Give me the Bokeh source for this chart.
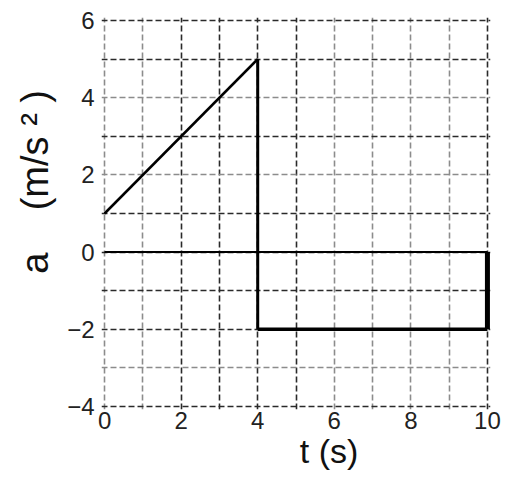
from bokeh.plotting import figure
from bokeh.models import Range1d, FixedTicker, Grid
from bokeh.embed import file_html
from bokeh.resources import INLINE

# data
t_rise = [0, 4]
a_rise = [1, 5]
t_drop = [4, 4]
a_drop = [5, -2]
t_flat = [4, 10]
a_flat = [-2, -2]
t_end = [10, 10]
a_end = [-2, 0]
t_zero = [0, 10]
a_zero = [0, 0]

x_ticks = [0, 2, 4, 6, 8, 10]
y_ticks = [-4, -2, 0, 2, 4, 6]
y_tick_labels = ["\u22124", "\u22122", "0", "2", "4", "6"]

# grid lines (scanned original shows some darker, some lighter)
x_grid_dark = [2, 3, 4, 5, 10]
x_grid_light = [0, 1, 6, 7, 8, 9]
y_grid_dark = [-4, -2, -1, 0, 1, 3, 5, 6]
y_grid_light = [-3, 2, 4]

NB = "\u00a0"
x_label = NB * 7 + "t (s)"
y_label = NB * 6 + "a" + NB * 4 + "(m/s" + NB + "\u00b2" + NB + ")"

p = figure(width=515, height=478,
           min_border_left=101, min_border_right=25, min_border_top=17, min_border_bottom=69,
           x_range=Range1d(-0.08, 10.08), y_range=Range1d(-4.08, 6.08),
           output_backend="svg", toolbar_location=None)
p.outline_line_color = None
p.background_fill_color = "white"
p.border_fill_color = "white"
p.xgrid.visible = False
p.ygrid.visible = False

for ax, ticks in ((p.xaxis[0], x_ticks), (p.yaxis[0], y_ticks)):
    ax.ticker = FixedTicker(ticks=ticks)
    ax.axis_line_color = None
    ax.major_tick_line_color = None
    ax.minor_tick_line_color = None
    ax.major_tick_out = 0
    ax.minor_tick_out = 0
    ax.major_label_text_font = "Liberation Sans"
    ax.major_label_text_font_size = "24px"
    ax.major_label_text_color = "#222222"
    ax.axis_label_text_font = "Liberation Sans"
    ax.axis_label_text_font_style = "normal"
    ax.axis_label_text_color = "#111111"

p.xaxis.major_label_standoff = 2
p.yaxis.major_label_standoff = 7
p.yaxis.major_label_overrides = {v: s for v, s in zip(y_ticks, y_tick_labels)}

p.xaxis.axis_label = x_label
p.xaxis.axis_label_text_font_size = "34px"
p.xaxis.axis_label_standoff = 0
p.yaxis.axis_label = y_label
p.yaxis.axis_label_text_font_size = "38px"
p.yaxis.axis_label_standoff = 8

for dim, ticks, color in ((0, x_grid_dark, "#2a2a2a"), (0, x_grid_light, "#8c8c8c"),
                          (1, y_grid_dark, "#2a2a2a"), (1, y_grid_light, "#8c8c8c")):
    p.add_layout(Grid(dimension=dim, ticker=FixedTicker(ticks=ticks),
                      grid_line_color=color, grid_line_dash="6 3", grid_line_width=1.6))

p.line(t_zero, a_zero, line_color="black", line_width=2)
p.line(t_rise, a_rise, line_color="black", line_width=2.5)
p.line(t_drop, a_drop, line_color="black", line_width=3)
p.line(t_flat, a_flat, line_color="black", line_width=3.5)
p.line(t_end, a_end, line_color="black", line_width=5)

open("out.html", "w").write(file_html(p, INLINE))
